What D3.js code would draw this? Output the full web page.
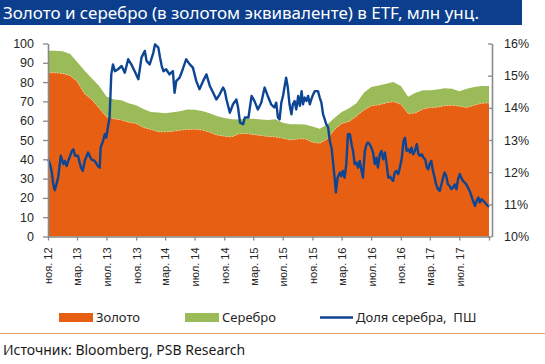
<!DOCTYPE html>
<html>
<head>
<meta charset="utf-8">
<script src="https://cdn.jsdelivr.net/npm/d3@7"></script>
<style>
  body { margin: 0; background: #fff; }
  svg { display: block; font-family: "Noto Sans", "DejaVu Sans", sans-serif; }
  .axis text { font-variant-numeric: oldstyle-nums; fill: #262626; }
  .legend text { white-space: pre; }
</style>
</head>
<body>
<div id="chart"></div>
<script>
//data
const startMonth = "2012-11-01";
const endMonth = "2017-11-01";

// gold ETF holdings, mln oz, month by month from Nov 2012
const goldEtf = [
  84.8, 84.8, 84.5, 83.3, 80.5, 74, 71, 66.5, 62, 61,
  60.3, 59.2, 58.5, 56.5, 55.5, 54.3, 54.2, 54.5, 55, 55.5,
  55.6, 55.2, 54, 52.6, 52, 51.6, 53.3, 53.3, 52.8, 52.3,
  51.8, 51.6, 50.9, 50, 50.5, 50.6, 48.8, 48.3, 50.5, 55.5,
  58.5, 59.6, 62.3, 65.5, 67.6, 68.2, 69.2, 69.9, 68.5, 63.7,
  64, 66, 66.8, 67, 67.8, 68, 67.5, 66.8, 68, 69, 69.2
];
// silver ETF holdings in gold equivalent, mln oz
const silverEtf = [
  11.4, 11.4, 11.5, 11.2, 10, 12, 11, 11.5, 10.5, 10,
  10.3, 9.8, 9.5, 9.5, 9, 9.9, 9.6, 9.9, 9.9, 10.3,
  10.1, 9.8, 9.8, 9.9, 9.4, 9.2, 7.3, 7.7, 8.2, 8.3,
  8.5, 9.2, 8.1, 8.2, 7.6, 7.4, 8.2, 7.5, 7.5, 6,
  6, 6.9, 6.7, 9, 9.9, 10.1, 10, 10.2, 9.5, 8.7,
  10.5, 9.8, 9, 9.2, 9, 8.6, 7.8, 9.7, 9.5, 9, 8.8
];

// silver share, %, right axis
const shareDates = [
  "2012-11-02","2012-11-09","2012-11-16","2012-11-23","2012-11-29","2012-12-06","2012-12-13","2012-12-24",
  "2013-01-04","2013-01-10","2013-01-17","2013-01-24","2013-02-08","2013-02-14","2013-02-21","2013-03-05",
  "2013-03-12","2013-03-18","2013-03-25","2013-04-02","2013-04-16","2013-04-29","2013-05-13","2013-05-27",
  "2013-06-03","2013-06-07","2013-06-17","2013-06-24","2013-06-30","2013-07-07","2013-07-14","2013-07-21",
  "2013-07-28","2013-08-05","2013-08-18","2013-09-02","2013-09-15","2013-09-29","2013-10-12","2013-10-26",
  "2013-11-10","2013-11-23","2013-12-07","2013-12-14","2013-12-27","2014-01-11","2014-01-18","2014-02-01",
  "2014-02-08","2014-02-15","2014-02-22","2014-03-05","2014-03-19","2014-04-02","2014-04-09","2014-04-16",
  "2014-04-30","2014-05-13","2014-05-27","2014-06-11","2014-06-24","2014-07-08","2014-07-21","2014-08-05",
  "2014-08-19","2014-09-02","2014-09-16","2014-09-29","2014-10-13","2014-10-27","2014-11-03","2014-11-10",
  "2014-11-24","2014-12-07","2014-12-21","2014-12-28","2015-01-05","2015-01-18","2015-01-25","2015-02-09",
  "2015-02-22","2015-03-06","2015-03-20","2015-04-03","2015-04-17","2015-04-30","2015-05-14","2015-05-27",
  "2015-06-04","2015-06-11","2015-06-18","2015-06-25","2015-07-02","2015-07-08","2015-07-15","2015-07-22",
  "2015-07-29","2015-08-06","2015-08-12","2015-08-19","2015-08-26","2015-09-03","2015-09-10","2015-09-17",
  "2015-09-23","2015-09-30","2015-10-07","2015-10-14","2015-10-21","2015-10-27","2015-11-04","2015-11-11",
  "2015-11-24","2015-12-01","2015-12-08","2015-12-15","2015-12-22","2015-12-28","2016-01-05","2016-01-12",
  "2016-01-19","2016-01-26","2016-02-02","2016-02-06","2016-02-13","2016-02-23","2016-02-28","2016-03-06",
  "2016-03-13","2016-03-20","2016-03-27","2016-04-04","2016-04-11","2016-04-17","2016-04-24","2016-05-01",
  "2016-05-08","2016-05-15","2016-05-21","2016-05-28","2016-06-05","2016-06-12","2016-06-18","2016-06-25",
  "2016-07-02","2016-07-09","2016-07-16","2016-07-23","2016-07-29","2016-08-06","2016-08-13","2016-08-20",
  "2016-08-27","2016-09-03","2016-09-10","2016-09-17","2016-09-24","2016-09-30","2016-10-07","2016-10-14",
  "2016-10-21","2016-10-28","2016-11-05","2016-11-12","2016-11-18","2016-11-25","2016-12-02","2016-12-09",
  "2016-12-15","2016-12-22","2016-12-29","2017-01-06","2017-01-13","2017-01-19","2017-01-26","2017-02-03",
  "2017-02-10","2017-02-17","2017-02-23","2017-02-28","2017-03-07","2017-03-14","2017-03-21","2017-03-27",
  "2017-04-04","2017-04-11","2017-04-18","2017-04-25","2017-05-01","2017-05-08","2017-05-15","2017-05-22",
  "2017-05-29","2017-06-05","2017-06-12","2017-06-19","2017-06-26","2017-07-03","2017-07-09","2017-07-16",
  "2017-07-23","2017-07-30","2017-08-13","2017-08-20","2017-08-27","2017-09-04","2017-09-11","2017-09-18",
  "2017-09-24","2017-10-01","2017-10-08","2017-10-15","2017-10-21","2017-10-28","2017-11-01"
];
const shareValues = [
  12.40, 12.25, 12.04, 11.62, 11.44, 11.62, 11.83, 12.51,
  12.25, 12.35, 12.19, 12.35, 12.66, 12.71, 12.51, 12.51,
  12.30, 12.14, 12.04, 12.35, 12.61, 12.40, 12.35, 12.19,
  12.14, 12.76, 12.97, 13.18, 13.07, 13.39, 13.70, 15.04,
  15.35, 15.14, 15.20, 15.30, 15.09, 15.51, 15.35, 15.14,
  14.89, 15.56, 15.77, 15.46, 15.35, 15.71, 15.97, 15.87,
  15.56, 15.30, 15.14, 15.20, 15.04, 15.14, 14.47, 14.83,
  14.94, 15.20, 15.51, 15.35, 15.25, 14.83, 14.58, 14.83,
  15.04, 14.68, 14.47, 14.26, 14.42, 14.63, 14.52, 14.26,
  13.85, 14.11, 14.26, 14.01, 13.54, 13.49, 13.70, 13.70,
  14.37, 14.21, 13.95, 14.16, 14.63, 14.37, 14.11, 14.01,
  14.16, 13.70, 13.64, 14.16, 14.37, 14.63, 14.94, 14.63,
  14.11, 13.80, 14.11, 14.21, 13.95, 14.37, 14.06, 14.52,
  14.11, 14.32, 14.21, 14.37, 14.11, 14.26, 14.42, 14.52,
  14.52, 14.32, 14.16, 13.80, 13.64, 13.49, 13.39, 12.97,
  12.76, 12.25, 11.73, 11.37, 11.83, 11.99, 11.88, 12.04,
  11.83, 12.25, 13.18, 13.18, 12.87, 12.66, 12.25, 12.30,
  12.14, 12.35, 12.09, 11.83, 12.66, 12.87, 12.92, 12.87,
  12.76, 12.61, 12.25, 12.45, 12.14, 12.56, 12.66, 12.40,
  12.61, 12.25, 11.83, 11.86, 11.78, 11.73, 11.99, 12.04,
  11.94, 12.14, 12.45, 12.97, 13.07, 12.66, 12.71, 12.61,
  12.76, 12.56, 12.66, 12.87, 12.56, 12.51, 12.56, 12.45,
  12.40, 12.14, 12.09, 12.25, 12.35, 12.04, 11.83, 11.62,
  11.47, 11.42, 11.62, 11.83, 11.99, 11.88, 11.62, 11.57,
  11.47, 11.52, 11.62, 11.47, 11.78, 11.94, 11.83, 11.73,
  11.68, 11.62, 11.42, 11.26, 11.11, 10.95, 11.11, 11.21,
  11.06, 11.16, 11.11, 11.06, 11.00, 10.95, 10.92
];

const xTickDates = [
  "2012-11-01","2013-03-01","2013-07-01","2013-11-01","2014-03-01","2014-07-01",
  "2014-11-01","2015-03-01","2015-07-01","2015-11-01","2016-03-01","2016-07-01",
  "2016-11-01","2017-03-01","2017-07-01","2017-11-01"
];
const xTickLabels = [
  "ноя. 12","мар. 13","июл. 13","ноя. 13","мар. 14","июл. 14",
  "ноя. 14","мар. 15","июл. 15","ноя. 15","мар. 16","июл. 16",
  "ноя. 16","мар. 17","июл. 17",""
];
const leftTicks = [0, 10, 20, 30, 40, 50, 60, 70, 80, 90, 100];
const rightTicks = [10, 11, 12, 13, 14, 15, 16];
const seriesNames = ["Золото", "Серебро", "Доля серебра,  ПШ"];

const titleText = "Золото и серебро (в золотом эквиваленте) в ETF, млн унц.";
const sourceText = "Источник: Bloomberg, PSB Research";

//colors
const colGold = "#E65F12";
const colSilver = "#9BBB59";
const colLine = "#0D4595";
const colAxis = "#8a8a8a";

//size
const width = 545, height = 364;
const plot = { left: 48, right: 489, top: 43.5, bottom: 236.5 };

const svg = d3.select("#chart").append("svg")
  .attr("width", width)
  .attr("height", height);

//title
svg.append("rect")
  .attr("x", 0).attr("y", 0)
  .attr("width", 522).attr("height", 25)
  .attr("fill", "#0B3E8D");
svg.append("text")
  .attr("x", 3).attr("y", 19)
  .attr("fill", "#fff")
  .attr("font-size", 17)
  .attr("textLength", 476)
  .attr("lengthAdjust", "spacingAndGlyphs")
  .text(titleText);

//scales
const parse = d3.timeParse("%Y-%m-%d");
const months = d3.timeMonth.range(parse(startMonth), d3.timeMonth.offset(parse(endMonth), 1));
const areaData = months.map((d, i) => ({ date: d, gold: goldEtf[i], silver: silverEtf[i] }));
const lineData = shareDates.map((d, i) => ({ date: parse(d), v: shareValues[i] }));

const x = d3.scaleTime()
  .domain([parse(startMonth), parse(endMonth)])
  .range([plot.left, plot.right]);
const yL = d3.scaleLinear().domain([0, 100]).range([plot.bottom, plot.top]);
const yR = d3.scaleLinear().domain([10, 16]).range([plot.bottom, plot.top]);

//areas
const goldArea = d3.area()
  .x((d) => x(d.date))
  .y0(yL(0))
  .y1((d) => yL(d.gold));
const silverArea = d3.area()
  .x((d) => x(d.date))
  .y0((d) => yL(d.gold))
  .y1((d) => yL(d.gold + d.silver));

svg.append("path").datum(areaData)
  .attr("fill", colSilver)
  .attr("d", silverArea);
svg.append("path").datum(areaData)
  .attr("fill", colGold)
  .attr("d", goldArea);
// thin light edge on top of gold, as in the original
svg.append("path").datum(areaData)
  .attr("fill", "none")
  .attr("stroke", "#f4e3a6")
  .attr("stroke-width", 0.7)
  .attr("stroke-dasharray", "1.5,1.5")
  .attr("d", d3.line().x((d) => x(d.date)).y((d) => yL(d.gold)));

//line
svg.append("path").datum(lineData)
  .attr("fill", "none")
  .attr("stroke", colLine)
  .attr("stroke-width", 2.4)
  .attr("stroke-linejoin", "round")
  .attr("d", d3.line().x((d) => x(d.date)).y((d) => yR(d.v)));

//axes
function styleAxis(g) {
  g.select(".domain").attr("stroke", colAxis).attr("stroke-width", 1.6);
  g.selectAll(".tick line").attr("stroke", colAxis).attr("stroke-width", 1.3);
}

svg.append("g")
  .attr("class", "axis")
  .attr("transform", `translate(${plot.left},0)`)
  .call(d3.axisLeft(yL).tickValues(leftTicks).tickSize(5).tickSizeOuter(0).tickPadding(9))
  .call(styleAxis)
  .call((g) => g.selectAll("text").attr("font-size", 12.5));

svg.append("g")
  .attr("class", "axis")
  .attr("transform", `translate(${plot.right + 3},0)`)
  .call(d3.axisRight(yR).tickValues(rightTicks).tickSizeInner(-4).tickSizeOuter(0).tickPadding(12)
    .tickFormat((d) => d + "%"))
  .call(styleAxis)
  .call((g) => g.selectAll("text").attr("font-size", 12.5));

svg.append("g")
  .attr("class", "axis")
  .attr("transform", `translate(0,${plot.bottom})`)
  .call(d3.axisBottom(x).tickValues(xTickDates.map(parse)).tickSize(4).tickSizeOuter(0)
    .tickFormat((d, i) => xTickLabels[i]))
  .call(styleAxis)
  .call((g) => g.selectAll("text")
    .attr("font-size", 11)
    .attr("text-anchor", "end")
    .attr("transform", "rotate(-90)")
    .attr("x", -11)
    .attr("y", 0)
    .attr("dy", "0.35em"));

//legend
const legend = svg.append("g").attr("class", "legend").attr("font-size", 13).attr("fill", "#262626");
legend.append("rect").attr("x", 59).attr("y", 313).attr("width", 34).attr("height", 9).attr("fill", colGold);
legend.append("text").attr("x", 96).attr("y", 322).text(seriesNames[0]);
legend.append("rect").attr("x", 185).attr("y", 313).attr("width", 34).attr("height", 9).attr("fill", colSilver);
legend.append("text").attr("x", 222).attr("y", 322).text(seriesNames[1]);
legend.append("line").attr("x1", 320).attr("x2", 353).attr("y1", 317.5).attr("y2", 317.5)
  .attr("stroke", colLine).attr("stroke-width", 2.4);
legend.append("text").attr("x", 356).attr("y", 322).text(seriesNames[2]);

//source
svg.append("line")
  .attr("x1", 0).attr("x2", width)
  .attr("y1", 333.5).attr("y2", 333.5)
  .attr("stroke", "#E3A06C").attr("stroke-width", 1);
svg.append("text")
  .attr("x", 3).attr("y", 355)
  .attr("font-size", 14)
  .attr("fill", "#1a1a1a")
  .text(sourceText);
</script>
</body>
</html>
